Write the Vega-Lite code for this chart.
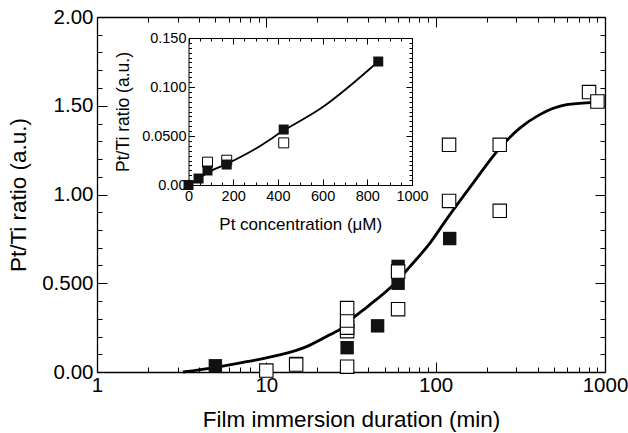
{
  "$schema": "https://vega.github.io/schema/vega-lite/v6.json",
  "width": 508,
  "height": 355,
  "autosize": "none",
  "padding": {"left": 97, "top": 17, "right": 23, "bottom": 61},
  "background": "white",
  "config": {
    "view": {"stroke": null},
    "font": "Liberation Sans",
    "axis": {"grid": false, "domainColor": "black", "tickColor": "black", "labelColor": "black", "titleColor": "black", "titleFontWeight": "normal", "domainWidth": 1.3, "tickWidth": 1, "labelFlush": false, "labelOverlap": false}
  },
  "datasets": {
    "curve": [
      {"t": 3.22, "r": 0.0}, {"t": 4.84, "r": 0.023}, {"t": 7.66, "r": 0.058}, {"t": 12.0, "r": 0.096},
      {"t": 17.3, "r": 0.143}, {"t": 23.7, "r": 0.21}, {"t": 28.3, "r": 0.25}, {"t": 32.6, "r": 0.305},
      {"t": 39.8, "r": 0.37}, {"t": 56.1, "r": 0.49}, {"t": 70.5, "r": 0.594}, {"t": 92.5, "r": 0.726},
      {"t": 115.9, "r": 0.86}, {"t": 166.3, "r": 1.064}, {"t": 239.3, "r": 1.262}, {"t": 314, "r": 1.374},
      {"t": 412, "r": 1.45}, {"t": 593, "r": 1.506}, {"t": 851, "r": 1.519}, {"t": 895, "r": 1.52}
    ],
    "filled": [
      {"t": 5, "r": 0.035}, {"t": 15, "r": 0.048}, {"t": 30, "r": 0.137}, {"t": 45.4, "r": 0.26},
      {"t": 60, "r": 0.5}, {"t": 60, "r": 0.595}, {"t": 121, "r": 0.752}
    ],
    "open": [
      {"t": 10, "r": 0.008}, {"t": 15, "r": 0.042}, {"t": 30, "r": 0.03}, {"t": 30, "r": 0.23},
      {"t": 30, "r": 0.25}, {"t": 30, "r": 0.29}, {"t": 30, "r": 0.36}, {"t": 60, "r": 0.354},
      {"t": 60, "r": 0.566}, {"t": 120, "r": 0.964}, {"t": 120, "r": 1.28}, {"t": 239, "r": 0.908},
      {"t": 239, "r": 1.28}, {"t": 805, "r": 1.577}, {"t": 902, "r": 1.524}
    ],
    "insetline": [
      {"c": 0, "r": 0.0}, {"c": 45, "r": 0.0062}, {"c": 85, "r": 0.0125}, {"c": 171, "r": 0.0215},
      {"c": 300, "r": 0.037}, {"c": 426, "r": 0.0555}, {"c": 596, "r": 0.0788}, {"c": 849, "r": 0.126}
    ],
    "insetfilled": [
      {"c": 0, "r": 0.0}, {"c": 45, "r": 0.0066}, {"c": 85, "r": 0.0148}, {"c": 171, "r": 0.0209},
      {"c": 426, "r": 0.0566}, {"c": 849, "r": 0.126}
    ],
    "insetopen": [
      {"c": 85, "r": 0.0233}, {"c": 171, "r": 0.0253}, {"c": 426, "r": 0.043}
    ]
  },
  "resolve": {"scale": {"x": "independent", "y": "independent"}, "axis": {"x": "independent", "y": "independent"}},
  "layer": [
    {
      "data": {"name": "curve"},
      "mark": {"type": "line", "color": "black", "strokeWidth": 2.8, "interpolate": "monotone"},
      "encoding": {
        "x": {"field": "t", "type": "quantitative",
          "scale": {"type": "log", "domain": [1, 1000], "nice": false},
          "axis": {"orient": "bottom", "values": [1,2,3,4,5,6,7,8,9,10,20,30,40,50,60,70,80,90,100,200,300,400,500,600,700,800,900,1000],
            "labelExpr": "datum.value==1?'1':datum.value==10?'10':datum.value==100?'100':datum.value==1000?'1000':''",
            "tickSize": {"condition": {"test": "datum.value==1||datum.value==10||datum.value==100||datum.value==1000", "value": -10}, "value": -5},
            "labelFontSize": 20.5, "labelPadding": 13, "title": "Film immersion duration (min)", "titleFontSize": 22.5, "titlePadding": 8}},
        "y": {"field": "r", "type": "quantitative",
          "scale": {"domain": [0, 2], "nice": false, "zero": false},
          "axis": {"orient": "left", "values": [0,0.1,0.2,0.3,0.4,0.5,0.6,0.7,0.8,0.9,1,1.1,1.2,1.3,1.4,1.5,1.6,1.7,1.8,1.9,2],
            "labelExpr": "datum.value==0?'0.00':datum.value==0.5?'0.500':datum.value==1?'1.00':datum.value==1.5?'1.50':datum.value==2?'2.00':''",
            "tickSize": {"condition": {"test": "datum.value==0||datum.value==0.5||datum.value==1||datum.value==1.5||datum.value==2", "value": -10}, "value": -5},
            "labelFontSize": 20.5, "labelPadding": 14, "title": "Pt/Ti ratio (a.u.)", "titleFontSize": 22.5, "titlePadding": 11}}
      }
    },
    {
      "data": {"name": "filled"},
      "mark": {"type": "square", "color": "#111111", "opacity": 1, "size": 180, "filled": true},
      "encoding": {
        "x": {"field": "t", "type": "quantitative",
          "scale": {"type": "log", "domain": [1, 1000], "nice": false},
          "axis": {"orient": "top", "values": [1,2,3,4,5,6,7,8,9,10,20,30,40,50,60,70,80,90,100,200,300,400,500,600,700,800,900,1000],
            "labels": false, "title": null,
            "tickSize": {"condition": {"test": "datum.value==1||datum.value==10||datum.value==100||datum.value==1000", "value": -10}, "value": -5}}},
        "y": {"field": "r", "type": "quantitative",
          "scale": {"domain": [0, 2], "nice": false, "zero": false},
          "axis": {"orient": "right", "values": [0,0.1,0.2,0.3,0.4,0.5,0.6,0.7,0.8,0.9,1,1.1,1.2,1.3,1.4,1.5,1.6,1.7,1.8,1.9,2],
            "labels": false, "title": null,
            "tickSize": {"condition": {"test": "datum.value==0||datum.value==0.5||datum.value==1||datum.value==1.5||datum.value==2", "value": -10}, "value": -5}}}
      }
    },
    {
      "data": {"name": "open"},
      "mark": {"type": "square", "fill": "white", "stroke": "black", "strokeWidth": 1.1, "opacity": 1, "fillOpacity": 1, "size": 180},
      "encoding": {
        "x": {"field": "t", "type": "quantitative", "scale": {"type": "log", "domain": [1, 1000], "nice": false}, "axis": null},
        "y": {"field": "r", "type": "quantitative", "scale": {"domain": [0, 2], "nice": false, "zero": false}, "axis": null}
      }
    },
    {
      "data": {"name": "insetline"},
      "mark": {"type": "line", "color": "black", "strokeWidth": 1.8, "interpolate": "monotone"},
      "encoding": {
        "x": {"field": "c", "type": "quantitative",
          "scale": {"domain": [0, 1000], "range": [91.5, 315], "nice": false},
          "axis": {"orient": "bottom", "offset": -187, "values": [0,50,100,150,200,250,300,350,400,450,500,550,600,650,700,750,800,850,900,950,1000],
            "labelExpr": "datum.value%200==0 ? format(datum.value,'d') : ''",
            "tickSize": {"condition": {"test": "datum.value%200==0", "value": -6}, "value": -3},
            "labelFontSize": 14.5, "labelPadding": 10.5, "title": "Pt concentration (μM)", "titleFontSize": 17, "titlePadding": 10, "domainWidth": 1}},
        "y": {"field": "r", "type": "quantitative",
          "scale": {"domain": [0, 0.15], "range": [168, 21], "nice": false, "zero": false},
          "axis": {"orient": "left", "offset": -91.5, "values": [0,0.005,0.01,0.015,0.02,0.025,0.03,0.035,0.04,0.045,0.05,0.055,0.06,0.065,0.07,0.075,0.08,0.085,0.09,0.095,0.1,0.105,0.11,0.115,0.12,0.125,0.13,0.135,0.14,0.145,0.15],
            "labelExpr": "datum.value==0?'0.00':abs(datum.value-0.05)<0.000001?'0.0500':abs(datum.value-0.1)<0.000001?'0.100':abs(datum.value-0.15)<0.000001?'0.150':''",
            "tickSize": {"condition": {"test": "abs(datum.value*20-round(datum.value*20))<0.0001", "value": -6}, "value": -3},
            "labelFontSize": 14.5, "labelPadding": 8.5, "title": "Pt/Ti ratio (a.u.)", "titleFontSize": 17.5, "titlePadding": 9, "domainWidth": 1}}
      }
    },
    {
      "data": {"name": "insetopen"},
      "mark": {"type": "square", "fill": "white", "stroke": "black", "strokeWidth": 1, "opacity": 1, "fillOpacity": 1, "size": 100},
      "encoding": {
        "x": {"field": "c", "type": "quantitative",
          "scale": {"domain": [0, 1000], "range": [91.5, 315], "nice": false},
          "axis": {"orient": "top", "offset": -21, "values": [0,50,100,150,200,250,300,350,400,450,500,550,600,650,700,750,800,850,900,950,1000],
            "labels": false, "title": null, "domainWidth": 1,
            "tickSize": {"condition": {"test": "datum.value%200==0", "value": -6}, "value": -3}}},
        "y": {"field": "r", "type": "quantitative",
          "scale": {"domain": [0, 0.15], "range": [168, 21], "nice": false, "zero": false},
          "axis": {"orient": "right", "offset": -193, "values": [0,0.005,0.01,0.015,0.02,0.025,0.03,0.035,0.04,0.045,0.05,0.055,0.06,0.065,0.07,0.075,0.08,0.085,0.09,0.095,0.1,0.105,0.11,0.115,0.12,0.125,0.13,0.135,0.14,0.145,0.15],
            "labels": false, "title": null, "domainWidth": 1,
            "tickSize": {"condition": {"test": "abs(datum.value*20-round(datum.value*20))<0.0001", "value": -6}, "value": -3}}}
      }
    },
    {
      "data": {"name": "insetfilled"},
      "mark": {"type": "square", "color": "#111111", "opacity": 1, "size": 100, "filled": true},
      "encoding": {
        "x": {"field": "c", "type": "quantitative", "scale": {"domain": [0, 1000], "range": [91.5, 315], "nice": false}, "axis": null},
        "y": {"field": "r", "type": "quantitative", "scale": {"domain": [0, 0.15], "range": [168, 21], "nice": false, "zero": false}, "axis": null}
      }
    }
  ]
}
